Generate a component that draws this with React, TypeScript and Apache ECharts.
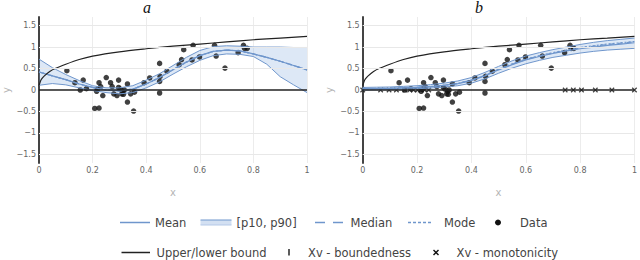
import React, { useEffect, useRef } from "react";
import * as echarts from "echarts";

// ---------- data ----------
const curveX = [0, 0.05, 0.1, 0.15, 0.2, 0.25, 0.3, 0.35, 0.4, 0.45, 0.5, 0.55, 0.6, 0.65, 0.7, 0.75, 0.8, 0.85, 0.9, 0.95, 1];

const meanA = [0.42, 0.33, 0.24, 0.14, 0.06, 0.0, -0.02, 0.02, 0.14, 0.29, 0.47, 0.65, 0.8, 0.9, 0.93, 0.91, 0.84, 0.76, 0.67, 0.57, 0.47];
const p90A = [0.72, 0.52, 0.36, 0.22, 0.1, 0.05, 0.05, 0.1, 0.23, 0.38, 0.57, 0.76, 0.92, 1.01, 1.03, 1.02, 1.0, 1.0, 1.0, 0.99, 0.99];
const p10A = [0.11, 0.15, 0.12, 0.05, -0.01, -0.06, -0.09, -0.06, 0.05, 0.19, 0.37, 0.54, 0.69, 0.8, 0.84, 0.83, 0.78, 0.6, 0.31, 0.12, -0.06];

const meanB = [0.03, 0.035, 0.04, 0.05, 0.06, 0.08, 0.11, 0.15, 0.22, 0.33, 0.47, 0.59, 0.7, 0.78, 0.85, 0.91, 0.96, 1.0, 1.04, 1.07, 1.1];
const p90B = [0.06, 0.065, 0.07, 0.085, 0.1, 0.125, 0.16, 0.21, 0.29, 0.41, 0.55, 0.68, 0.79, 0.87, 0.94, 1.0, 1.06, 1.11, 1.15, 1.18, 1.21];
const p10B = [0.0, 0.005, 0.01, 0.02, 0.03, 0.045, 0.07, 0.1, 0.16, 0.26, 0.39, 0.51, 0.61, 0.69, 0.76, 0.81, 0.86, 0.9, 0.93, 0.95, 0.97];
const medianB = [0.03, 0.035, 0.04, 0.05, 0.06, 0.08, 0.11, 0.15, 0.23, 0.34, 0.48, 0.6, 0.71, 0.79, 0.86, 0.92, 0.98, 1.02, 1.06, 1.09, 1.12];
const modeB = [0.03, 0.035, 0.04, 0.05, 0.06, 0.08, 0.11, 0.15, 0.23, 0.34, 0.48, 0.61, 0.72, 0.8, 0.87, 0.93, 0.99, 1.03, 1.07, 1.1, 1.13];

const boundX = [0, 0.005, 0.01, 0.02, 0.04, 0.06, 0.1, 0.15, 0.2, 0.3, 0.4, 0.5, 0.6, 0.7, 0.8, 0.9, 1.0];
const upperBound = [0.1, 0.2, 0.26, 0.33, 0.43, 0.5, 0.6, 0.71, 0.79, 0.89, 0.96, 1.02, 1.07, 1.12, 1.17, 1.21, 1.25];
const lowerBoundX = [0, 1];
const lowerBound = [0, 0];

const dataX = [0.104, 0.134, 0.165, 0.154, 0.177, 0.208, 0.224, 0.218, 0.224, 0.23, 0.215, 0.238, 0.251, 0.267, 0.273, 0.279, 0.291, 0.297, 0.297, 0.303, 0.309, 0.313, 0.318, 0.315, 0.33, 0.33, 0.342, 0.353, 0.356, 0.392, 0.413, 0.45, 0.452, 0.45, 0.45, 0.477, 0.523, 0.532, 0.54, 0.575, 0.571, 0.599, 0.655, 0.661, 0.694, 0.743, 0.763, 0.767, 0.777];
const dataY = [0.45, 0.17, 0.23, 0.0, 0.03, -0.43, -0.42, 0.02, 0.17, 0.08, -0.03, -0.13, 0.29, 0.17, 0.08, -0.09, -0.13, 0.23, 0.06, 0.02, -0.09, -0.03, 0.0, -0.1, 0.14, -0.28, -0.09, -0.49, -0.05, 0.17, 0.28, 0.62, 0.32, 0.2, -0.07, 0.44, 0.59, 0.71, 0.94, 1.04, 0.7, 0.77, 1.04, 0.79, 0.51, 0.87, 1.04, 0.97, 0.97];

const monoX = [0, 0.066, 0.097, 0.124, 0.155, 0.173, 0.187, 0.202, 0.214, 0.228, 0.243, 0.745, 0.775, 0.805, 0.856, 0.917, 1.0];
const monoY = monoX.map(() => 0);

const yGridValues = [-1.5, -1, -0.5, 0.5, 1, 1.5];
const panelTitles = ["a", "b"];

// ---------- styles ----------
const BLUE = "#6f96cc";
const BAND = "rgba(125,165,220,0.26)";
const FONT = "DejaVu Sans";
const CROSS = "path://M0,0L10,10M10,0L0,10";

const zip = (xs: number[], ys: number[]) => xs.map((x, i) => [x, ys[i]]);

function panelSeries(idx: number, cx: number[], mean: number[], p10: number[], p90: number[], median: number[], mode: number[], withMono: boolean) {
  const base = { xAxisIndex: idx, yAxisIndex: idx, showSymbol: false, symbol: "none", silent: true };
  const s: any[] = [
    {
      ...base,
      type: "line",
      name: "grid" + idx,
      data: [[0, 0]],
      lineStyle: { width: 0 },
      markLine: {
        silent: true,
        symbol: ["none", "none"],
        label: { show: false },
        lineStyle: { color: "#e8e8e8", width: 1, type: "solid" },
        data: yGridValues.map((v) => ({ yAxis: v })),
      },
    },
    {
      type: "custom",
      name: "[p10, p90]",
      xAxisIndex: idx,
      yAxisIndex: idx,
      silent: true,
      data: [[0, 0]],
      renderItem: (params: any, api: any) => {
        if (params.dataIndex !== 0) return null;
        const up = cx.map((x, i) => api.coord([x, p90[i]]));
        const lo = cx.map((x, i) => api.coord([x, p10[i]])).reverse();
        return { type: "polygon", shape: { points: up.concat(lo) }, style: { fill: BAND } };
      },
    },
    { ...base, type: "line", name: "p10-" + idx, data: zip(cx, p10), lineStyle: { color: BLUE, width: 1 } },
    { ...base, type: "line", name: "p90-" + idx, data: zip(cx, p90), lineStyle: { color: BLUE, width: 1 } },
    { ...base, type: "line", name: "Mean", data: zip(cx, mean), lineStyle: { color: BLUE, width: 1.2 } },
    { ...base, type: "line", name: "Median", data: zip(cx, median), lineStyle: { color: BLUE, width: 1.2, type: [5, 4] } },
    { ...base, type: "line", name: "Mode", data: zip(cx, mode), lineStyle: { color: BLUE, width: 1.2, type: [2, 2] } },
    { ...base, type: "line", name: "Upper bound", smooth: 0.3, data: zip(boundX, upperBound), lineStyle: { color: "#222", width: 1.2 } },
    { ...base, type: "line", name: "Lower bound", data: zip(lowerBoundX, lowerBound), lineStyle: { color: "#222", width: 1.6 } },
    {
      xAxisIndex: idx,
      yAxisIndex: idx,
      silent: true,
      type: "scatter",
      name: "Data",
      data: zip(dataX, dataY),
      symbol: "circle",
      symbolSize: 5.5,
      itemStyle: { color: "#111" },
    },
  ];
  if (withMono) {
    s.push({
      xAxisIndex: idx,
      yAxisIndex: idx,
      silent: true,
      type: "scatter",
      name: "Xv - monotonicity",
      data: zip(monoX, monoY),
      symbol: CROSS,
      symbolSize: 4.5,
      itemStyle: { color: "#111", borderColor: "#111", borderWidth: 1.2 },
    });
  }
  return s;
}

function yLabel(v: number) {
  const r = Math.round(v * 10) / 10;
  if (Math.abs(r * 2 - Math.round(r * 2)) > 1e-6) return "";
  if (Math.abs(r) > 1.55) return "";
  return r < 0 ? "\u2212" + String(Math.abs(r)) : String(r);
}

function axes(idx: number) {
  return {
    x: {
      type: "value",
      gridIndex: idx,
      min: 0,
      max: 1,
      interval: 0.2,
      axisLine: { show: false },
      axisTick: { show: false },
      splitLine: { show: true, lineStyle: { color: "#ececec", width: 1 } },
      axisLabel: {
        fontSize: 8,
        fontFamily: FONT,
        color: "#666",
        margin: 3,
        formatter: (v: number) => String(Math.round(v * 10) / 10),
      },
      name: "x",
      nameLocation: "middle",
      nameGap: 24,
      nameTextStyle: { color: "#b5b5b5", fontSize: 10, fontFamily: FONT },
    },
    y: {
      type: "value",
      gridIndex: idx,
      min: -1.7,
      max: 1.7,
      interval: 0.1,
      axisLine: { show: true, onZero: false, lineStyle: { color: "#444", width: 2 } },
      axisTick: { show: false },
      splitLine: { show: false },
      axisLabel: { fontSize: 8, fontFamily: FONT, color: "#666", margin: 3, formatter: yLabel },
      name: "y",
      nameLocation: "middle",
      nameGap: 28,
      nameRotate: 90,
      nameTextStyle: { color: "#b5b5b5", fontSize: 10, fontFamily: FONT },
    },
  };
}

function legendGraphics() {
  const t = (text: string, x: number, y: number) => ({
    type: "text",
    x,
    y,
    silent: true,
    style: {
      text,
      fill: "#444",
      fontSize: 11.5,
      fontFamily: FONT,
      textAlign: "left",
      textVerticalAlign: "middle",
      align: "left",
      verticalAlign: "middle",
    },
  });
  const ln = (x1: number, x2: number, y: number, stroke: string, w: number, dash?: number[]) => ({
    type: "line",
    silent: true,
    shape: { x1, y1: y, x2, y2: y },
    style: { stroke, lineWidth: w, lineDash: dash },
  });
  const r1 = 222.5;
  const r2 = 252.5;
  return [
    ln(120, 150, r1, BLUE, 1.5),
    t("Mean", 155, r1),
    { type: "rect", silent: true, shape: { x: 200.5, y: r1 - 2.5, width: 31, height: 5 }, style: { fill: "#d3e0f2" } },
    ln(200.5, 231.5, r1 - 2.5, BLUE, 1),
    ln(200.5, 231.5, r1 + 2.5, "#b4c9e8", 1),
    t("[p10, p90]", 236.5, r1),
    ln(315, 325, r1, BLUE, 1.5),
    ln(333, 343, r1, BLUE, 1.5),
    t("Median", 350.5, r1),
    ln(408, 433, r1, BLUE, 1.3, [3, 2]),
    t("Mode", 444, r1),
    { type: "circle", silent: true, shape: { cx: 498, cy: r1, r: 3 }, style: { fill: "#111" } },
    t("Data", 520, r1),
    ln(121.5, 150, r2, "#222", 1.5),
    t("Upper/lower bound", 156.5, r2),
    { type: "line", silent: true, shape: { x1: 289, y1: r2 - 3.5, x2: 289, y2: r2 + 3 }, style: { stroke: "#333", lineWidth: 1.6 } },
    t("Xv - boundedness", 308, r2),
    { type: "line", silent: true, shape: { x1: 433.5, y1: r2 - 2.5, x2: 438.5, y2: r2 + 2.5 }, style: { stroke: "#111", lineWidth: 1.4 } },
    { type: "line", silent: true, shape: { x1: 438.5, y1: r2 - 2.5, x2: 433.5, y2: r2 + 2.5 }, style: { stroke: "#111", lineWidth: 1.4 } },
    t("Xv - monotonicity", 456.5, r2),
  ];
}

export default function App() {
  const ref = useRef<HTMLDivElement>(null);
  useEffect(() => {
    document.body.style.margin = "0";
    if (!ref.current) return;
    const chart = echarts.init(ref.current, undefined, { renderer: "svg" });
    const a0 = axes(0);
    const a1 = axes(1);
    const titleX = [147, 479];
    chart.setOption({
      animation: false,
      backgroundColor: "#fff",
      grid: [
        { left: 34, top: 17, width: 273, height: 146 },
        { left: 362.7, top: 17, width: 274, height: 146 },
      ],
      xAxis: [a0.x, a1.x],
      yAxis: [a0.y, a1.y],
      graphic: [
        ...panelTitles.map((s, i) => ({
          type: "text",
          x: titleX[i],
          y: 7.5,
          silent: true,
          style: {
            text: s,
            fill: "#111",
            fontSize: 16,
            fontStyle: "italic",
            fontFamily: "Liberation Serif",
            textAlign: "center",
            textVerticalAlign: "middle",
            align: "center",
            verticalAlign: "middle",
          },
        })),
        ...legendGraphics(),
      ],
      series: [
        ...panelSeries(0, curveX, meanA, p10A, p90A, meanA, meanA, false),
        ...panelSeries(1, curveX, meanB, p10B, p90B, medianB, modeB, true),
      ],
    });
    return () => chart.dispose();
  }, []);
  return <div ref={ref} style={{ width: 640, height: 260 }} />;
}
